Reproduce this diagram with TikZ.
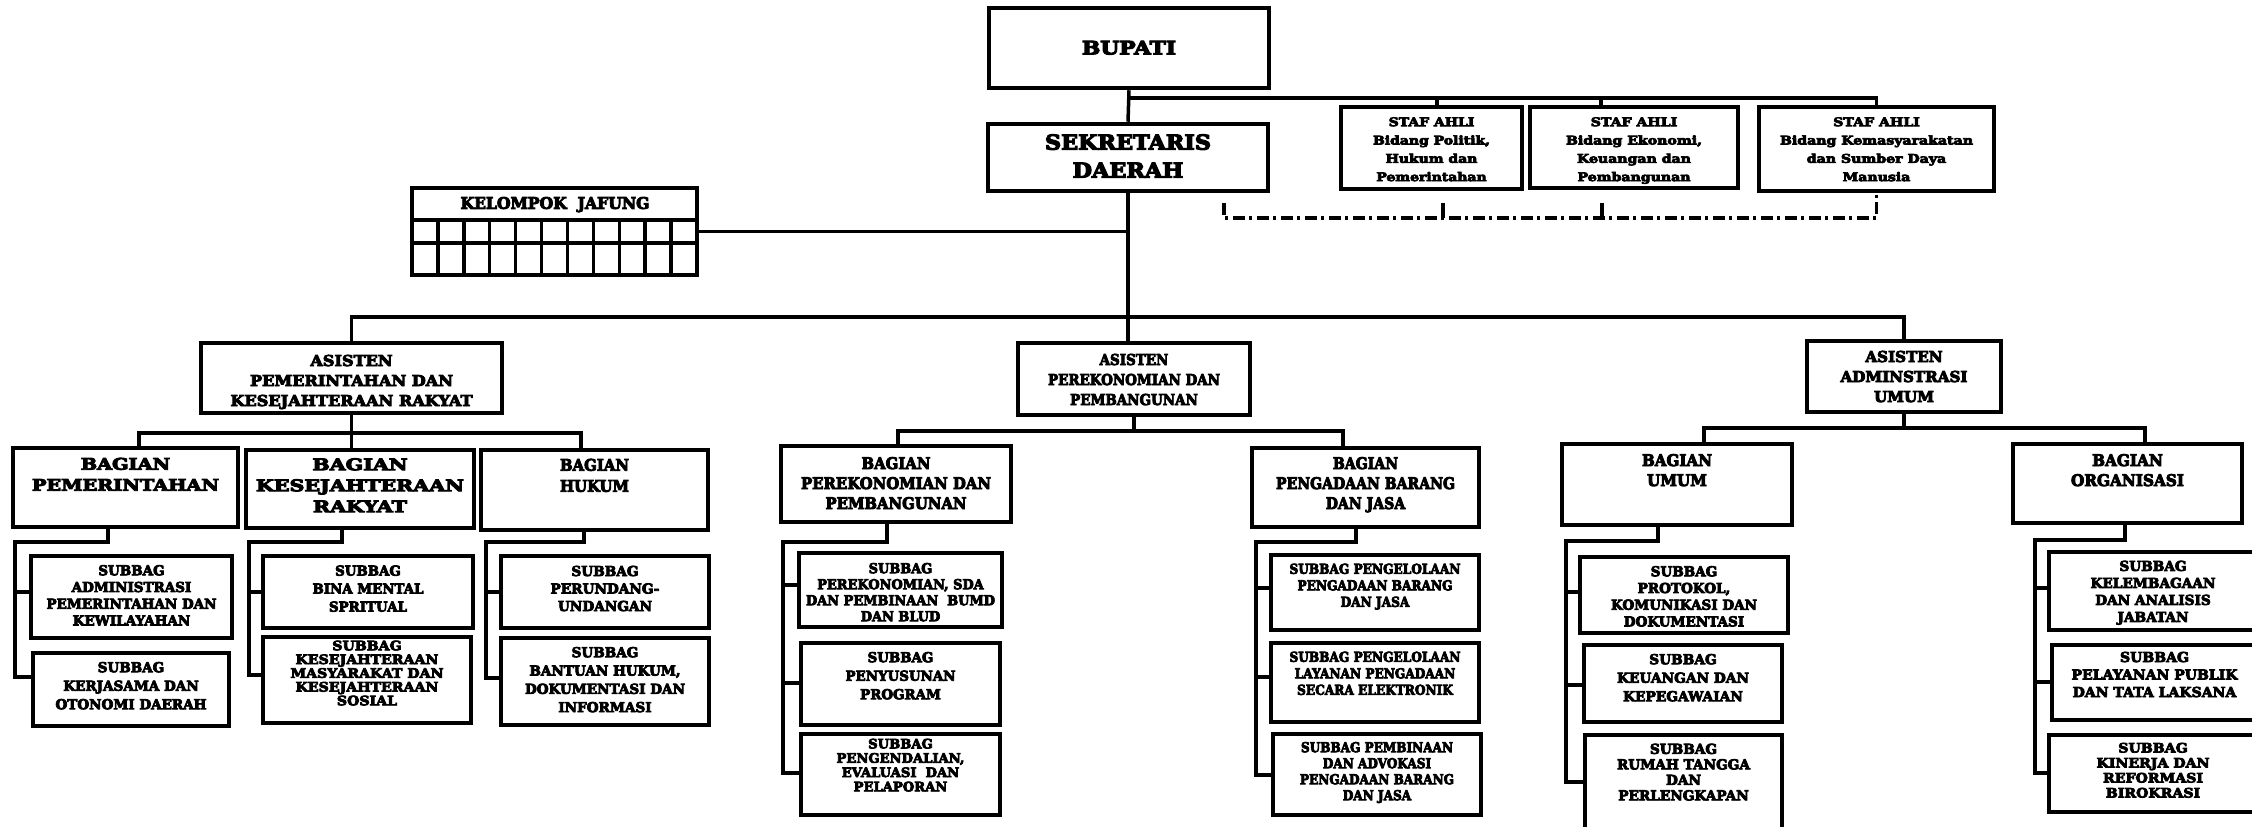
\documentclass[tikz,border=0pt]{standalone}
\usepackage{graphicx}
\usepackage{fontspec}
\newfontfamily\orgfont{DejaVu Serif}[BoldFeatures={FakeBold=5.5}]
\usetikzlibrary{calc}
\newsavebox\tbox
\def\curfs{13.7}
\newcommand\fitt[3]{%
  \fontsize{\curfs}{#2}\selectfont
  \sbox\tbox{\begin{tabular}{@{}c@{}}#3\end{tabular}}%
  \pgfmathsetmacro\sx{#1/\the\wd\tbox}%
  \scalebox{\sx}[1]{\usebox\tbox}}
\newcommand\orgbox[9]{%
  \node[box, minimum width=#4pt, minimum height=#5pt] (#1) at (#2,#3) {};
  \node[txt] (#1-t) at (#2,#6) {\fitt{#7}{#8}{#9}};}
\tikzset{
  box/.style={draw, rectangle, line width=4.5pt, inner sep=0pt},
  txt/.style={inner sep=0pt, font=\orgfont\bfseries},
  conn/.style={line width=3.5pt},
  gridl/.style={line width=3.5pt},
  dd/.style={line width=3.5pt, dash pattern=on 12pt off 4pt on 3pt off 5pt},
}
\begin{document}
\begin{tikzpicture}[x=1pt, y=-1pt]
\useasboundingbox (0,0) rectangle (2252,827);
\clip (0,0) rectangle (2252,827);
\fill[white] (0,0) rectangle (2252,827);

% ---- top
\def\curfs{18.5}
\orgbox{bupati}{1129}{48}{280}{80}{50}{94}{22}{BUPATI}
\def\curfs{20.5}
\orgbox{sekda}{1128}{157.5}{280}{67}{158}{166}{28}{SEKRETARIS\\DAERAH}
\def\curfs{12}
\tikzset{box/.append style={line width=3.5pt}}
\orgbox{staf1}{1431.5}{148}{181}{82}{150}{117}{18.3}{STAF AHLI\\Bidang Politik,\\Hukum dan\\Pemerintahan}
\orgbox{staf2}{1634}{147.5}{208}{81}{150}{136}{18.3}{STAF AHLI\\Bidang Ekonomi,\\Keuangan dan\\Pembangunan}
\orgbox{staf3}{1876.5}{149}{235}{84}{150}{193}{18.3}{STAF AHLI\\Bidang Kemasyarakatan\\dan Sumber Daya\\Manusia}
\tikzset{box/.append style={line width=4.5pt}}

% ---- kelompok jafung
\def\curfs{16}
\node[box, minimum width=285pt, minimum height=87pt] (kel) at (554.5,231.5) {};
\node[txt] (kel-t) at (555,205) {\fitt{189}{14}{KELOMPOK\ \ JAFUNG}};
\coordinate (kh1) at (0,220);
\coordinate (kh2) at (0,243);
\draw[gridl] (kel.west |- kh1) -- (kel.east |- kh1);
\draw[gridl] (kel.west |- kh2) -- (kel.east |- kh2);
\foreach \k in {1,...,10}{\pgfmathsetmacro\gx{412+\k*285/11}\draw[gridl] (\gx,220) -- (\gx,275);}

% ---- asisten
\def\curfs{15}
\orgbox{asis1}{351.5}{378}{301}{70}{382}{242}{20}{ASISTEN\\PEMERINTAHAN DAN\\KESEJAHTERAAN RAKYAT}
\orgbox{asis2}{1134}{379}{232}{72}{381}{172}{20}{ASISTEN\\PEREKONOMIAN DAN\\PEMBANGUNAN}
\orgbox{asis3}{1904}{376.5}{194}{71}{378}{127}{20}{ASISTEN\\ADMINSTRASI\\UMUM}

% ---- bagian
\def\curfs{16}
\orgbox{bpem}{125.5}{487.5}{225}{79}{476}{187}{21}{BAGIAN\\PEMERINTAHAN}
\orgbox{bkes}{360}{489}{228}{78}{487}{208}{21}{BAGIAN\\KESEJAHTERAAN\\RAKYAT}
\orgbox{bhuk}{594.5}{490}{227}{80}{477}{69}{21}{BAGIAN\\HUKUM}
\orgbox{bpere}{896}{484}{230}{76}{485}{190}{20}{BAGIAN\\PEREKONOMIAN DAN\\PEMBANGUNAN}
\orgbox{bpbj}{1365.5}{487.5}{227}{79}{485}{179}{20}{BAGIAN\\PENGADAAN BARANG\\DAN JASA}
\orgbox{bumum}{1677}{484.5}{230}{81}{472}{70}{20}{BAGIAN\\UMUM}
\orgbox{borg}{2127.5}{483.5}{229}{79}{472}{113}{20}{BAGIAN\\ORGANISASI}

% ---- subbag
\def\curfs{13.7}
\orgbox{sadm}{131.5}{597}{201}{82}{597}{170}{16.7}{SUBBAG\\ADMINISTRASI\\PEMERINTAHAN DAN\\KEWILAYAHAN}
\orgbox{sker}{131}{689.5}{196}{73}{687}{151}{18.5}{SUBBAG\\KERJASAMA DAN\\OTONOMI DAERAH}
\orgbox{sbin}{368}{592}{210}{72}{590}{111}{18}{SUBBAG\\BINA MENTAL\\SPRITUAL}
\orgbox{sper}{605}{592}{208}{72}{590}{109}{17.5}{SUBBAG\\PERUNDANG-\\UNDANGAN}
\orgbox{sban}{605}{681.5}{208}{87}{681}{160}{18.3}{SUBBAG\\BANTUAN HUKUM,\\DOKUMENTASI DAN\\INFORMASI}
\orgbox{ssda}{900.5}{590}{203}{74}{594}{189}{16}{SUBBAG\\PEREKONOMIAN, SDA\\DAN PEMBINAAN\ \ BUMD\\DAN BLUD}
\orgbox{ssus}{900.5}{684}{199}{82}{677}{110}{18.5}{SUBBAG\\PENYUSUNAN\\PROGRAM}
\orgbox{spbj}{1375}{592.5}{208}{75}{587}{171}{16.5}{SUBBAG PENGELOLAAN\\PENGADAAN BARANG\\DAN JASA}
\orgbox{slpe}{1375}{682.5}{208}{79}{675}{171}{16.5}{SUBBAG PENGELOLAAN\\LAYANAN PENGADAAN\\SECARA ELEKTRONIK}
\orgbox{sadv}{1377}{774.5}{208}{81}{773}{154}{16}{SUBBAG PEMBINAAN\\DAN ADVOKASI\\PENGADAAN BARANG\\DAN JASA}
\orgbox{spro}{1684}{595}{208}{76}{598}{146}{16.7}{SUBBAG\\PROTOKOL,\\KOMUNIKASI DAN\\DOKUMENTASI}
\orgbox{skeu}{1683}{683.5}{198}{77}{679}{132}{18.5}{SUBBAG\\KEUANGAN DAN\\KEPEGAWAIAN}
\orgbox{srt}{1683.5}{785}{197}{100}{774}{133}{15.5}{SUBBAG\\RUMAH TANGGA\\DAN\\PERLENGKAPAN}
\orgbox{skel}{2153}{591}{208}{78}{593}{125}{17}{SUBBAG\\KELEMBAGAAN\\DAN ANALISIS\\JABATAN}
\orgbox{spel}{2154.5}{682.5}{205}{75}{676}{166}{17.5}{SUBBAG\\PELAYANAN PUBLIK\\DAN TATA LAKSANA}
\def\curfs{13}
\orgbox{skms}{367}{680}{208}{86}{675}{153}{13.7}{SUBBAG\\KESEJAHTERAAN\\MASYARAKAT DAN\\KESEJAHTERAAN\\SOSIAL}
\orgbox{sdal}{900.5}{774.5}{199}{81}{767}{128}{14.3}{SUBBAG\\PENGENDALIAN,\\EVALUASI\ \ DAN\\PELAPORAN}
\orgbox{skin}{2153}{773.5}{208}{77}{772}{113}{15}{SUBBAG\\KINERJA DAN\\REFORMASI\\BIROKRASI}

% ---- connectors: top
\draw[conn] (bupati.south) -- (sekda.north);
\coordinate (sbar) at (1129,98);
\draw[conn] (sbar) -| (staf3.north);
\coordinate (s1k) at (1437,98);
\draw[conn] (s1k) -- (s1k |- staf1.north);
\coordinate (s2k) at (1601,98);
\draw[conn] (s2k) -- (s2k |- staf2.north);
\draw[conn] (sekda.south) -- (sekda.south |- asis2.north);
\draw[conn] (kel.east) -- (kel.east -| sekda.south);
\coordinate (abar) at (1129,317);
\draw[conn] (asis1.north) |- (abar) -| (asis3.north);

% dash-dot
\coordinate (d0) at (1224,203);
\coordinate (d1) at (1224,218);
\draw[dd] (d0) -- (d1) -- (d1 -| staf3.south) -- (staf3.south);
\coordinate (d2) at (1443,203);
\draw[conn] (d2) -- (d2 |- d1);
\coordinate (d3) at (1602,203);
\draw[conn] (d3) -- (d3 |- d1);

% ---- asisten -> bagian
\coordinate (b1) at (351.5,433);
\draw[conn] (asis1.south) -- (b1);
\draw[conn] ([xshift=13.5pt]bpem.north) |- (b1) -| ([xshift=-13.5pt]bhuk.north);
\draw[conn] (b1) -- (b1 |- bkes.north);
\coordinate (b2) at (1134,431);
\draw[conn] (asis2.south) -- (b2);
\draw[conn] ([xshift=2pt]bpere.north) |- (b2) -| ([xshift=-22.5pt]bpbj.north);
\coordinate (b3) at (1904,428);
\draw[conn] (asis3.south) -- (b3);
\draw[conn] ([xshift=27pt]bumum.north) |- (b3) -| ([xshift=17.5pt]borg.north);

% ---- bagian -> subbag rails
\coordinate (r1) at (15,542); \coordinate (r1a) at (15,592); \coordinate (r1b) at (15,677);
\draw[conn] ([xshift=-17.5pt]bpem.south) |- (r1) -- (r1b) -- (r1b -| sker.west);
\draw[conn] (r1a) -- (r1a -| sadm.west);

\coordinate (r2) at (249,542); \coordinate (r2a) at (249,592); \coordinate (r2b) at (249,675);
\draw[conn] ([xshift=-18pt]bkes.south) |- (r2) -- (r2b) -- (r2b -| skms.west);
\draw[conn] (r2a) -- (r2a -| sbin.west);

\coordinate (r3) at (486,542); \coordinate (r3a) at (486,592); \coordinate (r3b) at (486,678);
\draw[conn] ([xshift=-10.5pt]bhuk.south) |- (r3) -- (r3b) -- (r3b -| sban.west);
\draw[conn] (r3a) -- (r3a -| sper.west);

\coordinate (r4) at (783,542); \coordinate (r4a) at (783,585); \coordinate (r4b) at (783,683); \coordinate (r4c) at (783,773);
\draw[conn] ([xshift=-9pt]bpere.south) |- (r4) -- (r4c) -- (r4c -| sdal.west);
\draw[conn] (r4a) -- (r4a -| ssda.west);
\draw[conn] (r4b) -- (r4b -| ssus.west);

\coordinate (r5) at (1256,542); \coordinate (r5a) at (1256,588); \coordinate (r5b) at (1256,677); \coordinate (r5c) at (1256,775);
\draw[conn] ([xshift=-9.5pt]bpbj.south) |- (r5) -- (r5c) -- (r5c -| sadv.west);
\draw[conn] (r5a) -- (r5a -| spbj.west);
\draw[conn] (r5b) -- (r5b -| slpe.west);

\coordinate (r6) at (1566,541); \coordinate (r6a) at (1566,592); \coordinate (r6b) at (1566,685); \coordinate (r6c) at (1566,782);
\draw[conn] ([xshift=-19pt]bumum.south) |- (r6) -- (r6c) -- (r6c -| srt.west);
\draw[conn] (r6a) -- (r6a -| spro.west);
\draw[conn] (r6b) -- (r6b -| skeu.west);

\coordinate (r7) at (2035,540); \coordinate (r7a) at (2035,588); \coordinate (r7b) at (2035,682); \coordinate (r7c) at (2035,773);
\draw[conn] ([xshift=-2.5pt]borg.south) |- (r7) -- (r7c) -- (r7c -| skin.west);
\draw[conn] (r7a) -- (r7a -| skel.west);
\draw[conn] (r7b) -- (r7b -| spel.west);
\end{tikzpicture}
\end{document}
